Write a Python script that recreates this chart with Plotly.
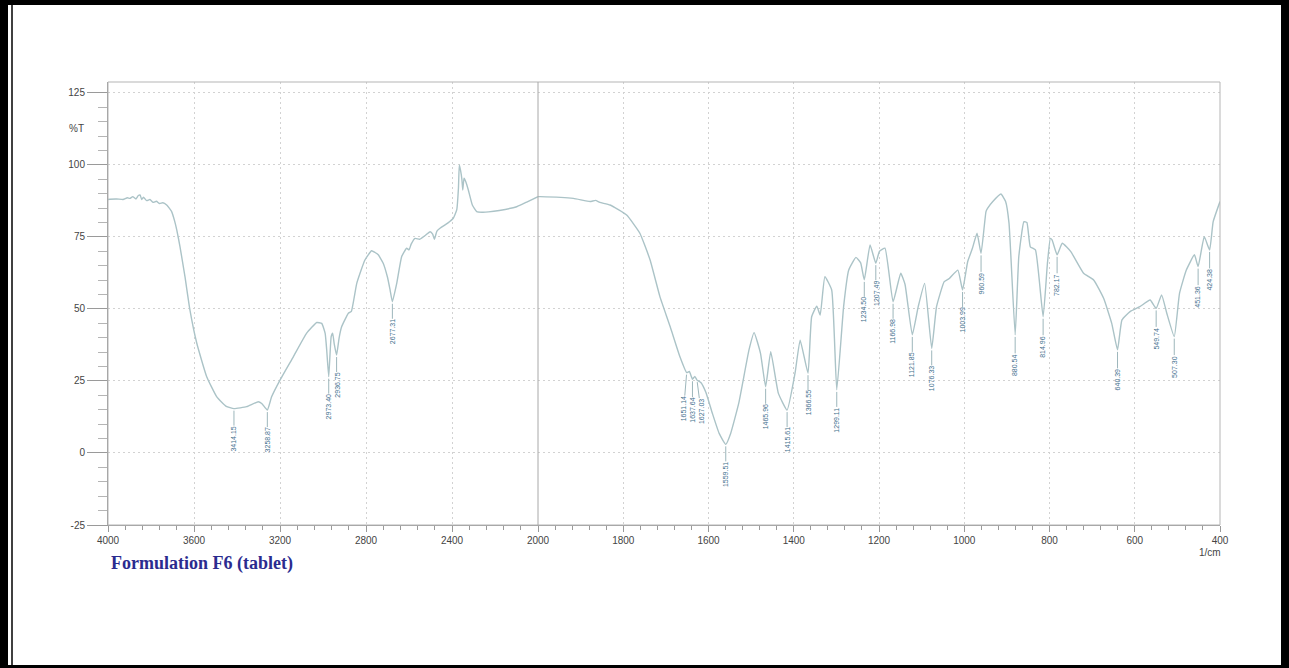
import plotly.graph_objects as go

# ---- spectrum, high-wavenumber segment (4000-2000 1/cm) ----
wn_hi = [4000, 3991, 3960, 3930, 3910, 3898, 3885, 3870, 3860, 3851, 3843, 3835,
         3820, 3805, 3790, 3775, 3760, 3745, 3727, 3715, 3704, 3690, 3680, 3665,
         3642, 3619, 3587, 3541, 3494, 3450, 3414.15, 3355, 3301, 3285, 3258.87,
         3239, 3200, 3138, 3076, 3029, 3006, 2990, 2983, 2973.40, 2962, 2955,
         2948, 2936.75, 2925, 2913, 2882, 2868, 2843, 2805, 2774, 2758, 2743,
         2720, 2700, 2688, 2677.31, 2657, 2634, 2611, 2600, 2590, 2572, 2550,
         2525, 2502, 2490, 2482, 2470, 2456, 2420, 2394, 2378, 2370, 2366, 2360,
         2354, 2350, 2344, 2335, 2324, 2305, 2285, 2260, 2230, 2180, 2099, 2050,
         2000]
t_hi = [88.0, 88.1, 88.2, 88.0, 88.6, 88.4, 89.0, 88.2, 89.3, 89.6, 88.0, 88.8,
        87.6, 88.0, 87.0, 87.4, 86.6, 86.9, 86.1, 85.0, 83.8, 80.5, 77.4, 71.6,
        61.2, 49.7, 38.1, 26.5, 19.5, 16.2, 15.4, 16.1, 17.8, 17.2, 14.9,
        19.5, 25.3, 33.4, 41.6, 45.3, 45.0, 41.5, 36.0, 26.5, 40.4, 41.6,
        38.0, 34.0, 40.0, 43.9, 48.5, 49.2, 58.9, 67.0, 70.2, 69.6, 68.8,
        65.9, 61.0, 56.6, 52.5, 58.9, 68.2, 71.1, 70.5, 72.5, 74.5, 74.2,
        75.5, 76.8, 76.0, 74.2, 77.0, 78.0, 79.8, 81.5, 84.4, 92.0, 100.0, 98.0,
        95.0, 91.3, 95.4, 94.0, 91.3, 86.0, 83.8, 83.6, 83.7, 84.2, 85.5, 87.2,
        89.0]

# ---- spectrum, low-wavenumber segment (2000-400 1/cm) ----
wn_lo = [2000, 1995, 1917, 1878, 1865, 1855, 1831, 1792, 1761, 1737, 1714, 1690,
         1667, 1651.14, 1645, 1637.64, 1632, 1627.03, 1618, 1606, 1591, 1575,
         1559.51, 1548, 1529, 1505, 1493, 1478, 1465.96, 1454, 1436, 1415.61,
         1397, 1385, 1366.55, 1358, 1346, 1338, 1327, 1311, 1299.11, 1283, 1271,
         1254, 1243, 1234.50, 1221, 1207.49, 1199, 1186, 1166.98, 1149, 1139,
         1121.85, 1108, 1093, 1076.33, 1065, 1047, 1035, 1015, 1003.99, 992, 981,
         970, 960.59, 949, 945, 933, 914, 903, 895, 880.54, 872, 860, 853, 845,
         833, 814.96, 805, 798, 794, 782.17, 770, 750, 720, 696, 673, 654,
         640.39, 630, 611, 588, 564, 549.74, 537, 525, 507.30, 495, 479, 460,
         451.36, 437, 424.38, 416, 400]
t_lo = [89.0, 89.0, 88.4, 87.3, 87.7, 87.0, 86.1, 82.6, 76.3, 67.0, 54.3, 43.9,
        33.4, 27.9, 28.3, 25.6, 26.6, 25.3, 24.5, 21.0, 13.8, 6.8,
        3.0, 6.8, 17.3, 35.8, 41.8, 34.6, 23.0, 35.2, 20.7, 14.9,
        27.7, 39.2, 27.7, 47.3, 51.0, 47.9, 61.2, 56.6, 21.9, 50.8, 63.5,
        67.9, 66.0, 60.1, 72.2, 65.9, 70.0, 71.1, 52.5, 62.4, 58.6,
        41.0, 50.8, 58.9, 36.3, 50.8, 59.5, 60.6, 63.5, 56.6, 66.4, 71.0,
        76.3, 69.3, 83.8, 85.0, 87.3, 89.9, 87.3, 79.8, 41.0, 68.2, 80.3, 80.0, 71.6,
        70.5, 47.3, 65.6, 74.5, 74.0, 68.8, 72.8, 69.9, 62.4, 60.0, 53.7, 45.0,
        35.8, 46.2, 49.1, 50.8, 53.1, 50.2, 54.9, 48.6, 40.4, 55.4, 63.5, 68.8,
        64.7, 75.1, 70.5, 80.3, 87.3]

# ---- labelled band positions ----
peaks_hi = [3414.15, 3258.87, 2973.40, 2936.75, 2677.31]
peaks_hi_t = [15.4, 14.9, 26.5, 34.0, 52.5]
peaks_lo = [1651.14, 1637.64, 1627.03, 1559.51, 1465.96, 1415.61, 1366.55,
            1299.11, 1234.50, 1207.49, 1166.98, 1121.85, 1076.33, 1003.99,
            960.59, 880.54, 814.96, 782.17, 640.39, 549.74, 507.30, 451.36,
            424.38]
peaks_lo_t = [27.9, 25.6, 25.3, 3.0, 23.0, 14.9, 27.7, 21.9, 60.1, 65.9, 52.5,
              41.0, 36.3, 56.6, 69.3, 41.0, 47.3, 68.8, 35.8, 50.2, 40.4, 64.7,
              70.5]

ticks_hi = [4000, 3600, 3200, 2800, 2400, 2000]
ticks_lo = [1800, 1600, 1400, 1200, 1000, 800, 600, 400]
ticks_y = [-25, 0, 25, 50, 75, 100, 125]
ticks_y_text = ["-25", "0", "25", "50", "75", "100", "125"]

LINE = "#abc3c7"
LABEL = "#3f6f8d"
GRID = "#d2d2d2"
GRIDDASH = "2px,3px"
AXIS = "#9a9a9a"
TICKFONT = dict(family="Liberation Sans, Arial", size=10, color="#444444")

# plot area in pixels: x 108..1220, y 82..525
L, R, T, B = 108, 1220, 82, 525
W, H = 1289, 668
split = (538 - L) / (R - L)

def px(x):
    return (x - L) / (R - L)

def py(y):
    return (B - y) / (B - T)

fig = go.Figure()
fig.add_trace(go.Scatter(x=wn_hi, y=t_hi, xaxis="x", yaxis="y", mode="lines",
                         line=dict(color=LINE, width=1.4, shape="spline", smoothing=0.4),
                         hoverinfo="skip", showlegend=False))
fig.add_trace(go.Scatter(x=wn_lo, y=t_lo, xaxis="x2", yaxis="y", mode="lines",
                         line=dict(color=LINE, width=1.4, shape="spline", smoothing=0.4),
                         hoverinfo="skip", showlegend=False))

annotations = []

def peak_label(xref, p, t, ax=0, ay=30):
    return dict(x=p, y=t, xref=xref, yref="y", text=f"{p:.2f}", textangle=-90,
                showarrow=True, arrowhead=0, arrowwidth=1, arrowcolor="#9db6bb",
                ax=ax, ay=ay, standoff=2, borderpad=0,
                font=dict(family="Liberation Sans, Arial", size=7, color=LABEL))

for p, t in zip(peaks_hi, peaks_hi_t):
    annotations.append(peak_label("x", p, t))

cluster_shift = {1651.14: (-3, 36), 1637.64: (0, 31), 1627.03: (4, 31)}
for p, t in zip(peaks_lo, peaks_lo_t):
    ax, ay = cluster_shift.get(p, (0, 30))
    annotations.append(peak_label("x2", p, t, ax, ay))

annotations += [
    dict(x=px(86), y=112.5, xref="paper", yref="y", text="%T", showarrow=False,
         xanchor="right", yanchor="middle", font=TICKFONT),
    dict(x=px(1210), y=py(552), xref="paper", yref="paper", text="1/cm",
         showarrow=False, xanchor="center", yanchor="middle", font=TICKFONT),
    dict(x=px(109), y=py(563), xref="paper", yref="paper",
         text="<b>Formulation F6 (tablet)</b>", showarrow=False,
         xanchor="left", yanchor="middle",
         font=dict(family="Liberation Serif, Times New Roman", size=18, color="#2b2b8f")),
]

shapes = [
    # plot frame
    dict(type="rect", xref="paper", yref="paper", x0=0, x1=1, y0=0, y1=1,
         line=dict(color="#b5b5b5", width=1)),
    # scale change at 2000 1/cm
    dict(type="line", xref="paper", yref="paper", x0=split, x1=split, y0=0, y1=1,
         line=dict(color="#a8a8a8", width=1)),
    # page border
    dict(type="rect", xref="paper", yref="paper", x0=px(0), x1=px(8), y0=py(0), y1=py(H),
         fillcolor="black", line=dict(width=0)),
    dict(type="line", xref="paper", yref="paper", x0=px(12), x1=px(12), y0=py(0), y1=py(H),
         line=dict(color="black", width=1.5)),
    dict(type="rect", xref="paper", yref="paper", x0=px(0), x1=px(W), y0=py(0), y1=py(5),
         fillcolor="black", line=dict(width=0)),
    dict(type="rect", xref="paper", yref="paper", x0=px(1281), x1=px(W), y0=py(0), y1=py(H),
         fillcolor="black", line=dict(width=0)),
    dict(type="rect", xref="paper", yref="paper", x0=px(0), x1=px(W), y0=py(665), y1=py(H),
         fillcolor="black", line=dict(width=0)),
]

xcommon = dict(showline=True, linecolor=AXIS, linewidth=1, ticks="outside",
               ticklen=6, tickcolor=AXIS, showgrid=True, gridcolor=GRID,
               griddash=GRIDDASH, gridwidth=1, zeroline=False, tickfont=TICKFONT,
               anchor="y")

fig.update_layout(
    width=W, height=H,
    margin=dict(l=L, r=W - R, t=T, b=H - B),
    paper_bgcolor="white", plot_bgcolor="white",
    xaxis=dict(domain=[0, split], range=[4000, 2000], tickvals=ticks_hi,
               minor=dict(dtick=80, tick0=0, ticks="outside", ticklen=4,
                          tickcolor=AXIS, showgrid=False),
               **xcommon),
    xaxis2=dict(domain=[split, 1], range=[2000, 400], tickvals=ticks_lo,
                minor=dict(dtick=40, tick0=0, ticks="outside", ticklen=4,
                           tickcolor=AXIS, showgrid=False),
                **xcommon),
    yaxis=dict(range=[-25, 128.8], tickvals=ticks_y, ticktext=ticks_y_text,
               anchor="x", showline=True, linecolor=AXIS, ticks="outside",
               ticklen=20, tickcolor=AXIS, showgrid=True, gridcolor=GRID,
               griddash=GRIDDASH, zeroline=False, tickfont=TICKFONT,
               minor=dict(dtick=5, tick0=0, ticks="outside", ticklen=9,
                          tickcolor="#b5b5b5", showgrid=False)),
    annotations=annotations,
    shapes=shapes,
    showlegend=False,
)

fig.write_html("out.html")
